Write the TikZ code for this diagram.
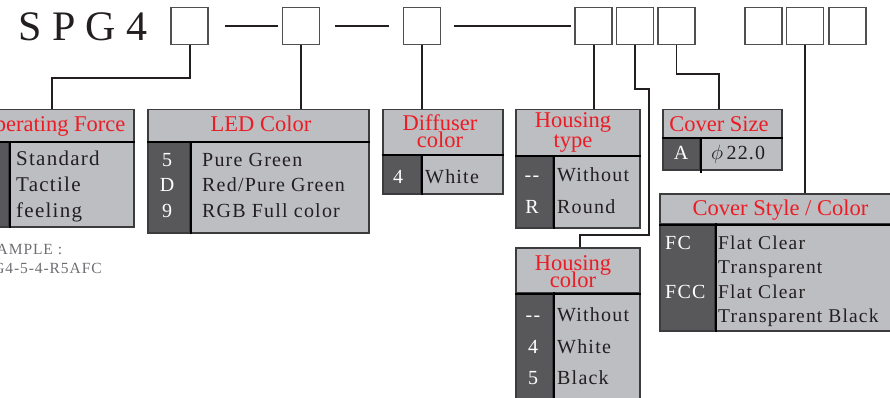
\documentclass[tikz,border=0pt]{standalone}
\usepackage{fontspec}
\setmainfont{Liberation Serif}
\newfontfamily\trk{Liberation Serif}[LetterSpace=6]
\definecolor{lg}{HTML}{BDBEC2}
\definecolor{dg}{HTML}{58585B}
\definecolor{bord}{HTML}{3C3C3E}
\definecolor{redt}{HTML}{EC1C24}
\definecolor{ink}{HTML}{231F20}
\definecolor{exg}{HTML}{6D6E71}
\definecolor{boxb}{HTML}{505052}
\tikzset{
  topbox/.style={draw=boxb, fill=white, line width=1.8pt, minimum size=37pt, inner sep=0pt},
  conn/.style={draw=ink, line width=2pt},
  dashseg/.style={draw=ink, line width=2pt},
  hcell/.style={draw=bord, fill=lg, line width=1.5pt, inner sep=0pt, anchor=north west},
  dcell/.style={draw=bord, fill=dg, line width=1.5pt, inner sep=0pt, anchor=north west},
  lcell/.style={draw=bord, fill=lg, line width=1.5pt, inner sep=0pt, anchor=north west},
  divl/.style={draw=black, line width=2pt},
  htxt/.style={anchor=base, text=redt, inner sep=0pt, font=\fontsize{22.5}{24}\selectfont},
  btxt/.style={anchor=base west, text=ink, inner sep=0pt, font=\trk\fontsize{20}{24}\selectfont},
  ktxt/.style={anchor=base, text=white, inner sep=0pt, font=\trk\fontsize{20}{24}\selectfont},
  extxt/.style={anchor=base west, text=exg, inner sep=0pt, font=\trk\fontsize{15.5}{18}\selectfont}
}
\begin{document}
\begin{tikzpicture}[x=1pt,y=-1pt]
\useasboundingbox (0,0) rectangle (890,398);
\clip (0,0) rectangle (890,398);

% title
\node[anchor=base west, inner sep=0pt, text=ink, font=\fontsize{42}{42}\selectfont] (title) at (18,41) {S P G 4};

% top boxes
\node[topbox] (b1) at (189.5,26) {};
\node[topbox] (b2) at (301,26) {};
\node[topbox] (b3) at (422,26) {};
\node[topbox] (b4) at (593.5,26) {};
\node[topbox] (b5) at (635,26) {};
\node[topbox] (b6) at (676.5,26) {};
\node[topbox] (b7) at (763.5,26) {};
\node[topbox] (b8) at (805,26) {};
\node[topbox] (b9) at (847.5,26) {};

\draw[dashseg, shorten <=16pt, shorten >=4pt] (b1.east) -- (b2.west);
\draw[dashseg, shorten <=15pt, shorten >=14pt] (b2.east) -- (b3.west);
\draw[dashseg, shorten <=13pt, shorten >=3pt] (b3.east) -- (b4.west);

% ---- Operating Force
\node[hcell, minimum width=162pt, minimum height=32pt] (opf) at (-29,109) {};
\node[dcell, minimum width=37pt, minimum height=85pt] (opfk) at (-29,141) {};
\node[lcell, minimum width=125pt, minimum height=85pt] (opfv) at (8,141) {};
\draw[divl] (opfk.north east) -- (opfk.south east);
\draw[divl] (opf.south west) -- (opf.south east);
\node[htxt] (opfh) at (52,132) {Operating Force};
\node[btxt, font=\trk\fontsize{21}{24}\selectfont] (opf1) at (16,165) {Standard};
\node[btxt, font=\trk\fontsize{21}{24}\selectfont] (opf2) at (16,191) {Tactile};
\node[btxt, font=\trk\fontsize{21}{24}\selectfont] (opf3) at (16,217) {feeling};

\node[extxt] (ex1) at (-26,254) {EXAMPLE :};
\node[extxt] (ex2) at (-26,273) {SPG4-5-4-R5AFC};

% ---- LED Color
\node[hcell, minimum width=221pt, minimum height=32pt] (led) at (147,109) {};
\node[dcell, minimum width=42pt, minimum height=91pt] (ledk) at (147,141) {};
\node[lcell, minimum width=179pt, minimum height=91pt] (ledv) at (189,141) {};
\draw[divl] (ledk.north east) -- (ledk.south east);
\draw[divl] (led.south west) -- (led.south east);
\node[htxt] (ledh) at (261,132) {LED Color};
\node[ktxt] (ledk1) at (167,167) {5};
\node[ktxt] (ledk2) at (167,191) {D};
\node[ktxt] (ledk3) at (167,217) {9};
\node[btxt] (ledv1) at (202,167) {Pure Green};
\node[btxt] (ledv2) at (202,191) {Red/Pure Green};
\node[btxt] (ledv3) at (202,217) {RGB Full color};

% ---- Diffuser color
\node[hcell, minimum width=120pt, minimum height=45pt] (dif) at (382,109) {};
\node[dcell, minimum width=38pt, minimum height=39pt] (difk) at (382,154) {};
\node[lcell, minimum width=82pt, minimum height=39pt] (difv) at (420,154) {};
\draw[divl] (difk.north east) -- (difk.south east);
\draw[divl] (dif.south west) -- (dif.south east);
\node[htxt] (difh1) at (440,131) {Diffuser};
\node[htxt] (difh2) at (440,148) {color};
\node[ktxt] (difk1) at (398,183) {4};
\node[btxt] (difv1) at (425,183) {White};

% ---- Housing type
\node[hcell, minimum width=124pt, minimum height=46pt] (ht) at (515,109) {};
\node[dcell, minimum width=37pt, minimum height=72pt] (htk) at (515,155) {};
\node[lcell, minimum width=87pt, minimum height=72pt] (htv) at (552,155) {};
\draw[divl] (htk.north east) -- (htk.south east);
\draw[divl] (ht.south west) -- (ht.south east);
\node[htxt] (hth1) at (573,128) {Housing};
\node[htxt] (hth2) at (573,148) {type};
\node[ktxt] (htk1) at (532,182) {{-}{-}};
\node[ktxt] (htk2) at (532,213) {R};
\node[btxt] (htv1) at (557,182) {Without};
\node[btxt] (htv2) at (557,213) {Round};

% ---- Housing color
\node[hcell, minimum width=124pt, minimum height=45pt] (hc) at (515,247) {};
\node[dcell, minimum width=37pt, minimum height=110pt] (hck) at (515,292) {};
\node[lcell, minimum width=87pt, minimum height=110pt] (hcv) at (552,292) {};
\draw[divl] (hck.north east) -- (hck.south east);
\draw[divl] (hc.south west) -- (hc.south east);
\node[htxt] (hch1) at (573,270) {Housing};
\node[htxt] (hch2) at (573,287) {color};
\node[ktxt] (hck1) at (533,321) {{-}{-}};
\node[ktxt] (hck2) at (533,353) {4};
\node[ktxt] (hck3) at (533,384) {5};
\node[btxt] (hcv1) at (557,321) {Without};
\node[btxt] (hcv2) at (557,353) {White};
\node[btxt] (hcv3) at (557,384) {Black};

% ---- Cover Size
\node[hcell, minimum width=119pt, minimum height=28pt] (cs) at (662,109) {};
\node[dcell, minimum width=37pt, minimum height=32pt] (csk) at (662,137) {};
\node[lcell, minimum width=82pt, minimum height=32pt] (csv) at (699,137) {};
\draw[divl] (csk.north east) -- ([yshift=-2pt]csk.south east);
\draw[divl] (cs.south west) -- (cs.south east);
\node[htxt] (csh) at (719,132) {Cover Size};
\node[ktxt] (csk1) at (681,160) {A};
\node[btxt] (csv1) at (711,160) {$\phi$\,22.0};

% ---- Cover Style / Color
\node[hcell, minimum width=240pt, minimum height=30pt] (csc) at (659,193) {};
\node[dcell, minimum width=55pt, minimum height=107pt] (csck) at (659,223) {};
\node[lcell, minimum width=185pt, minimum height=107pt] (cscv) at (714,223) {};
\draw[divl] (csck.north east) -- (csck.south east);
\draw[divl] (csc.south west) -- (csc.south east);
\node[htxt] (csch) at (780.5,215) {Cover Style / Color};
\node[ktxt, anchor=base west] (csck1) at (665,249) {FC};
\node[ktxt, anchor=base west] (csck2) at (665,298) {FCC};
\node[btxt, font=\trk\fontsize{19.5}{24}\selectfont] (cscv1) at (718,249) {Flat Clear};
\node[btxt, font=\trk\fontsize{19.5}{24}\selectfont] (cscv2) at (718,273) {Transparent};
\node[btxt, font=\trk\fontsize{19.5}{24}\selectfont] (cscv3) at (718,298) {Flat Clear};
\node[btxt, font=\trk\fontsize{19.5}{24}\selectfont] (cscv4) at (718,322) {Transparent Black};

% ---- connectors
\coordinate (k0) at (52,78);
\draw[conn] (b1.south) |- (k0) -- (k0 |- opf.north);
\draw[conn] (b2.south) -- (b2.south |- led.north);
\draw[conn] (b3.south) -- (b3.south |- dif.north);
\draw[conn] (b4.south) -- (b4.south |- ht.north);
\coordinate (k1) at (649,89);
\coordinate (k2) at (580,235);
\draw[conn] (b5.south) |- (k1) |- (k2) -- (k2 |- hc.north);
\coordinate (k3) at (719,74);
\draw[conn, line width=1.6pt] (b6.south) |- (k3) -- (k3 |- cs.north);
\draw[conn] (b8.south) -- (b8.south |- csc.north);
\end{tikzpicture}
\end{document}
